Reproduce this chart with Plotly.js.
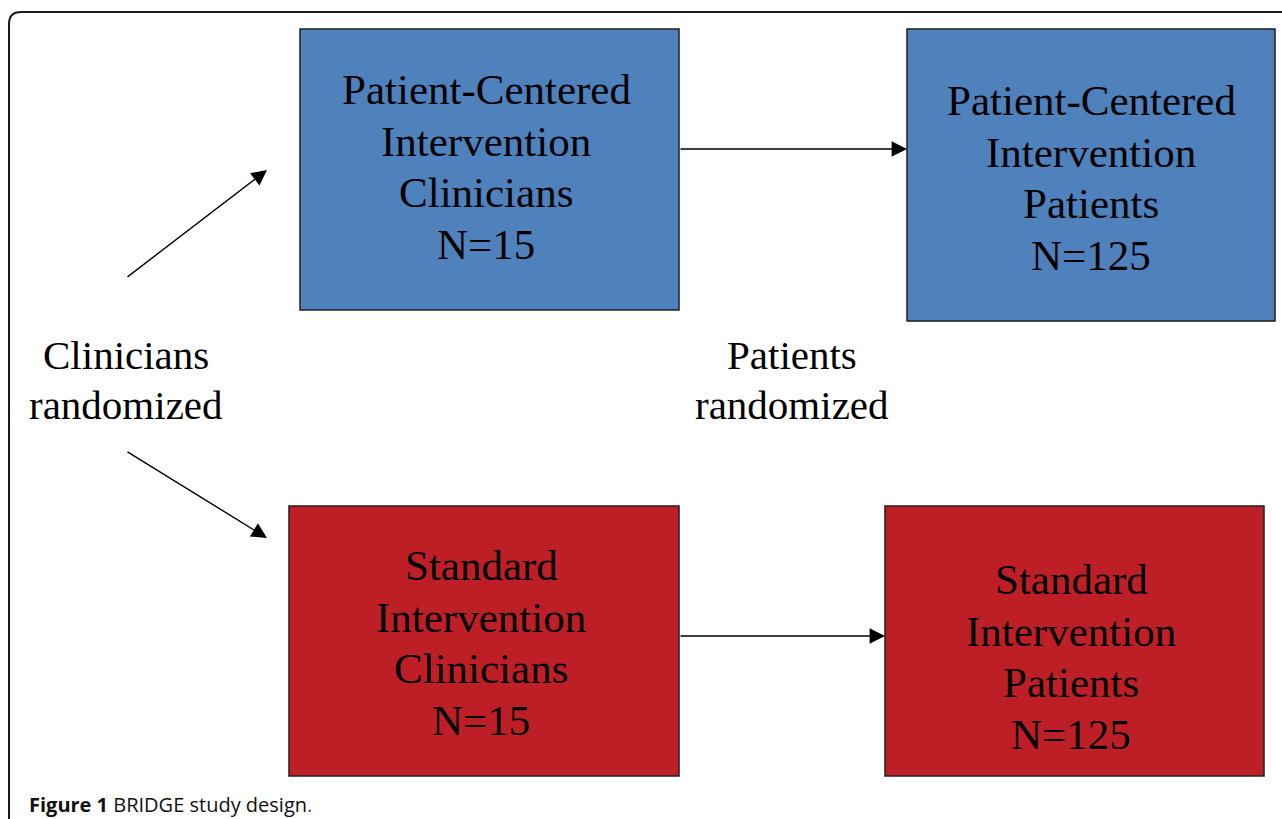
<!DOCTYPE html>
<html>
<head>
<meta charset="utf-8">
<script src="https://cdn.plot.ly/plotly-3.0.1.min.js"></script>
<style>
html,body{margin:0;padding:0;background:#fff;}
#chart{width:1282px;height:819px;}
</style>
</head>
<body>
<div id="chart"></div>
<script>
// ---- Data ----
const arms = ['Patient-Centered Intervention', 'Standard Intervention'];
const clinicianN = [15, 15];
const patientN = [125, 125];
const stageLabels = ['Clinicians randomized', 'Patients randomized'];
const unitLabels = ['Clinicians', 'Patients'];
const captionBold = 'Figure 1';
const captionText = 'BRIDGE study design';

// ---- Layout geometry (pixel-like axis units) ----
const armFill = ['#4F81BD', '#BE1F26'];
const boxes = [
  [ {x0:300, x1:679, y0:29, y1:310, cx:486, cy:167},
    {x0:907, x1:1275, y0:29, y1:321, cx:1091, cy:178} ],
  [ {x0:289, x1:679, y0:506, y1:776, cx:481, cy:643},
    {x0:885, x1:1264, y0:506, y1:776, cx:1071, cy:657} ]
];
const boxLineGap = 51.5;
const boxFont = {family: '"Liberation Serif", "Times New Roman", serif', size: 43, color: '#000'};
const sideFont = {family: '"Liberation Serif", "Times New Roman", serif', size: 41, color: '#000'};

const shapes = [];
const annotations = [];

// outer frame
shapes.push({type:'path', xref:'x', yref:'y',
  path:'M 1282 12 L 21 12 Q 9 12 9 24 L 9 819',
  line:{color:'#1a1a1a', width:2}});

arms.forEach((arm, a) => {
  const words = arm.split(' ');
  [clinicianN, patientN].forEach((ns, s) => {
    const b = boxes[a][s];
    shapes.push({type:'rect', xref:'x', yref:'y', x0:b.x0, x1:b.x1, y0:b.y0, y1:b.y1,
      fillcolor: armFill[a], line:{color:'#1f1f1f', width:1.5}, layer:'below'});
    const lines = words.concat([unitLabels[s], 'N=' + ns[a]]);
    const n = lines.length;
    lines.forEach((t, i) => {
      annotations.push({x:b.cx, y:b.cy + (i - (n-1)/2) * boxLineGap, xref:'x', yref:'y',
        text:t, showarrow:false, font:boxFont, xanchor:'center', yanchor:'middle'});
    });
  });
});

// stage labels
const stagePos = [{cx:126, cy:380}, {cx:792, cy:380}];
stageLabels.forEach((lab, i) => {
  const parts = lab.split(' ');
  parts.forEach((t, j) => {
    annotations.push({x:stagePos[i].cx, y:stagePos[i].cy + (j - (parts.length-1)/2) * 50,
      xref:'x', yref:'y', text:t, showarrow:false, font:sideFont,
      xanchor:'center', yanchor:'middle'});
  });
});

// arrows
const arrows = [
  {x0:126, y0:278, x1:267, y1:170},
  {x0:126, y0:451, x1:267, y1:538},
  {x0:679, y0:149, x1:907, y1:149},
  {x0:679, y0:636, x1:885, y1:636}
];
arrows.forEach(ar => {
  annotations.push({x:ar.x1, y:ar.y1, ax:ar.x0, ay:ar.y0, xref:'x', yref:'y', axref:'x', ayref:'y',
    text:'', showarrow:true, arrowhead:2, arrowsize:2.2, arrowwidth:1.4, arrowcolor:'#000', standoff:0});
});

// caption
annotations.push({x:27, y:804, xref:'x', yref:'y', xanchor:'left', yanchor:'middle', showarrow:false,
  text:'<b>' + captionBold + '</b> ' + captionText + '<span style="color:#555">.</span>',
  font:{family:'"Open Sans", "Noto Sans", sans-serif', size:20, color:'#111'}});

const layout = {
  width:1282, height:819,
  margin:{l:0, r:0, t:0, b:0},
  paper_bgcolor:'#fff', plot_bgcolor:'#fff',
  xaxis:{range:[0,1282], visible:false, fixedrange:true},
  yaxis:{range:[819,0], visible:false, fixedrange:true},
  shapes:shapes,
  annotations:annotations,
  showlegend:false
};

Plotly.newPlot('chart', [{x:[], y:[], type:'scatter', mode:'markers', hoverinfo:'skip'}], layout,
  {staticPlot:true, displayModeBar:false});
</script>
</body>
</html>
